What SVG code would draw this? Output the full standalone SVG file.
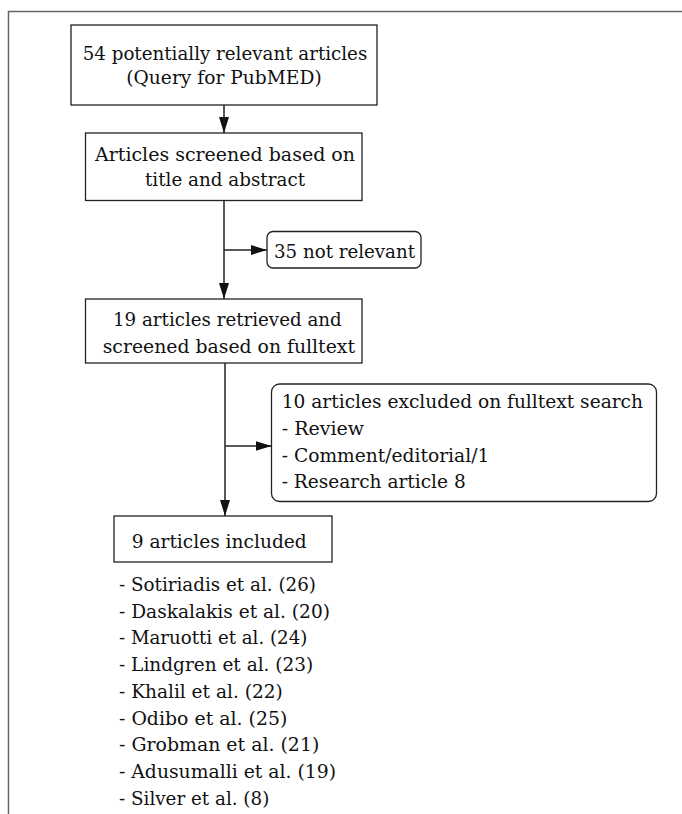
<svg xmlns="http://www.w3.org/2000/svg" width="682" height="814" viewBox="0 0 682 814">
<defs>
<marker id="ah" viewBox="0 0 16 10" refX="16" refY="5" markerWidth="16" markerHeight="10" markerUnits="userSpaceOnUse" orient="auto">
<path d="M0,0 L16,5 L0,10 z" fill="#111"/>
</marker>
<style>
.box{fill:#fff;stroke:#222;stroke-width:1.3}
.t{font-family:"DejaVu Serif",serif;font-size:18.5px;fill:#111}
.ln{stroke:#222;stroke-width:1.5;fill:none}
.frame{stroke:#666;stroke-width:1.5;fill:none}
</style>
</defs>
<rect width="682" height="814" fill="#fff"/>
<path class="frame" d="M682,11.5 H8.5 V814"/>
<g id="connectors">
<line class="ln" x1="224" y1="105" x2="224" y2="133" marker-end="url(#ah)"/>
<line class="ln" x1="224" y1="201" x2="224" y2="299" marker-end="url(#ah)"/>
<line class="ln" x1="224" y1="250" x2="267" y2="250" marker-end="url(#ah)"/>
<line class="ln" x1="225" y1="363" x2="225" y2="516" marker-end="url(#ah)"/>
<line class="ln" x1="225" y1="446" x2="271.5" y2="446" marker-end="url(#ah)"/>
</g>
<g id="n1">
<rect class="box" x="71" y="25" width="306" height="80"/>
<text class="t" x="82.7" y="60" textLength="284.6" lengthAdjust="spacingAndGlyphs">54 potentially relevant articles</text>
<text class="t" x="126.3" y="84" textLength="195.4" lengthAdjust="spacingAndGlyphs">(Query for PubMED)</text>
</g>
<g id="n2">
<rect class="box" x="85.5" y="133" width="276.5" height="67.5"/>
<text class="t" x="95" y="160.5" textLength="260" lengthAdjust="spacingAndGlyphs">Articles screened based on</text>
<text class="t" x="145" y="186" textLength="160" lengthAdjust="spacingAndGlyphs">title and abstract</text>
</g>
<g id="n3">
<rect class="box" x="267" y="231.5" width="154" height="36.5" rx="6"/>
<text class="t" x="274" y="258" textLength="141" lengthAdjust="spacingAndGlyphs">35 not relevant</text>
</g>
<g id="n4">
<rect class="box" x="85.5" y="299" width="276.5" height="64"/>
<text class="t" x="113" y="326" textLength="228.7" lengthAdjust="spacingAndGlyphs">19 articles retrieved and</text>
<text class="t" x="102.7" y="353" textLength="252.3" lengthAdjust="spacingAndGlyphs">screened based on fulltext</text>
</g>
<g id="n5">
<rect class="box" x="271.5" y="384" width="385" height="117.5" rx="8"/>
<text class="t" x="281.7" y="408" textLength="361.3" lengthAdjust="spacingAndGlyphs">10 articles excluded on fulltext search</text>
<text class="t" x="281.7" y="435" textLength="82.3" lengthAdjust="spacingAndGlyphs">- Review</text>
<text class="t" x="281.7" y="461.5" textLength="207.6" lengthAdjust="spacingAndGlyphs">- Comment/editorial/1</text>
<text class="t" x="281.7" y="488" textLength="184" lengthAdjust="spacingAndGlyphs">- Research article 8</text>
</g>
<g id="n6">
<rect class="box" x="114" y="516" width="218" height="46"/>
<text class="t" x="131.7" y="548" textLength="175" lengthAdjust="spacingAndGlyphs">9 articles included</text>
</g>
<g id="list">
<text class="t" x="119" y="591" textLength="197" lengthAdjust="spacingAndGlyphs">- Sotiriadis et al. (26)</text>
<text class="t" x="119" y="617.7" textLength="211" lengthAdjust="spacingAndGlyphs">- Daskalakis et al. (20)</text>
<text class="t" x="119" y="644.4" textLength="188.3" lengthAdjust="spacingAndGlyphs">- Maruotti et al. (24)</text>
<text class="t" x="119" y="671.1" textLength="194.3" lengthAdjust="spacingAndGlyphs">- Lindgren et al. (23)</text>
<text class="t" x="119" y="697.8" textLength="163.7" lengthAdjust="spacingAndGlyphs">- Khalil et al. (22)</text>
<text class="t" x="119" y="724.5" textLength="168.3" lengthAdjust="spacingAndGlyphs">- Odibo et al. (25)</text>
<text class="t" x="119" y="751.2" textLength="200.3" lengthAdjust="spacingAndGlyphs">- Grobman et al. (21)</text>
<text class="t" x="119" y="777.9" textLength="217" lengthAdjust="spacingAndGlyphs">- Adusumalli et al. (19)</text>
<text class="t" x="119" y="804.6" textLength="150.3" lengthAdjust="spacingAndGlyphs">- Silver et al. (8)</text>
</g>
</svg>
